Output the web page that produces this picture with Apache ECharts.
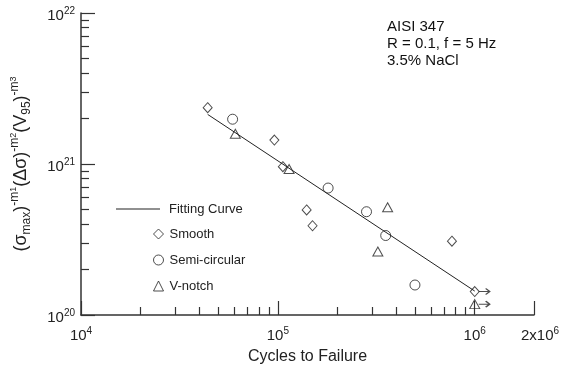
<!DOCTYPE html>
<html>
<head>
<meta charset="utf-8">
<title>AISI 347 fatigue life</title>
<script src="https://cdn.jsdelivr.net/npm/echarts@6/dist/echarts.min.js"></script>
<style>
  html, body { margin: 0; padding: 0; background: #fff; }
  #chart { width: 566px; height: 378px; }
</style>
</head>
<body>
<div id="chart"></div>
<script>
// Cycles to failure and combined stress parameter for each notch type
const smoothCycles = [4.4e4, 9.6e4, 1.06e5, 1.40e5, 1.50e5, 7.66e5, 1.0e6];
const smoothParam  = [2.36e21, 1.44e21, 9.6e20, 4.96e20, 3.90e20, 3.08e20, 1.43e20];
const smoothRunout = [0, 0, 0, 0, 0, 0, 1];

const semiCycles = [5.89e4, 1.80e5, 2.82e5, 3.53e5, 4.97e5];
const semiParam  = [1.98e21, 6.93e20, 4.83e20, 3.36e20, 1.58e20];
const semiRunout = [0, 0, 0, 0, 0];

const vCycles = [6.08e4, 1.14e5, 3.61e5, 3.22e5, 1.0e6];
const vParam  = [1.585e21, 9.27e20, 5.17e20, 2.63e20, 1.18e20];
const vRunout = [0, 0, 0, 0, 1];

// Fitted power-law line end points
const fitCycles = [4.4e4, 1.0e6];
const fitParam  = [2.13e21, 1.44e20];

// Axis ranges
const xRange = [1e4, 2e6];
const yRange = [1e20, 1e22];

const annotation = ['AISI 347', 'R = 0.1, f = 5 Hz', '3.5% NaCl'];
const seriesNames = ['Smooth', 'Semi-circular', 'V-notch'];
const fitName = 'Fitting Curve';
const xTitle = 'Cycles to Failure';

const FONT = '"Liberation Sans", Arial, Helvetica, sans-serif';
const INK = '#222';

const zip = (xs, ys) => xs.map((x, i) => [x, ys[i]]);

// minor ticks at 2..9 within each full decade of a range
function minorTicks(lo, hi) {
  const out = [];
  for (let d = lo; d < hi; d *= 10) {
    for (let k = 2; k <= 9; k++) {
      const v = k * d;
      if (v < hi) out.push(v);
    }
  }
  return out;
}

function powerLabel(v) {
  const e = Math.floor(Math.log10(v) + 1e-9);
  const m = Math.round(v / Math.pow(10, e));
  if (m === 1) return '{b|10}{s|' + e + '}';
  return '{c|' + m + 'x10}{s|' + e + '}';
}

const tickRich = {
  b: { fontSize: 15, lineHeight: 20, color: INK, fontFamily: FONT },
  c: { fontSize: 15, lineHeight: 20, color: INK, fontFamily: FONT, padding: [0, 0, 0, 12] },
  s: { fontSize: 10, lineHeight: 6.6, verticalAlign: 'top', color: INK, fontFamily: FONT }
};

// run-out arrows for specimens that did not fail
const runoutPts = []
  .concat(zip(smoothCycles, smoothParam).filter((p, i) => smoothRunout[i]))
  .concat(zip(semiCycles, semiParam).filter((p, i) => semiRunout[i]))
  .concat(zip(vCycles, vParam).filter((p, i) => vRunout[i]));

const markerStyle = { color: 'transparent', borderColor: INK, borderWidth: 1 };

const chart = echarts.init(document.getElementById('chart'), null, { renderer: 'canvas' });

chart.setOption({
  animation: false,
  backgroundColor: '#fff',
  textStyle: { fontFamily: FONT },
  grid: { left: 81, top: 13, width: 453, height: 302 },
  title: {
    text: annotation.join('\n'),
    left: 382, top: 14,
    textStyle: { fontSize: 15, fontWeight: 'normal', color: '#111', lineHeight: 16.7, fontFamily: FONT }
  },
  legend: [
    {
      data: [{ name: fitName, icon: 'path://M0,0 H44 V1 H0 Z' }],
      left: 111, top: 197,
      itemWidth: 44, itemHeight: 14,
      selectedMode: false,
      textStyle: { fontSize: 13, color: INK, lineHeight: 14, padding: [0, 0, 0, 4], fontFamily: FONT }
    },
    {
      data: seriesNames,
      orient: 'vertical',
      left: 148, top: 222,
      itemWidth: 10, itemHeight: 10, itemGap: 12,
      selectedMode: false,
      itemStyle: { borderWidth: 1 },
      textStyle: { fontSize: 13, color: INK, lineHeight: 14, padding: [0, 0, 0, 1], fontFamily: FONT }
    }
  ],
  xAxis: [
    {
      type: 'log', logBase: 10, min: xRange[0], max: xRange[1],
      name: xTitle, nameLocation: 'middle', nameGap: 32,
      nameTextStyle: { fontSize: 16, color: INK, fontFamily: FONT },
      axisLine: { show: true, lineStyle: { color: '#333', width: 1.5 } },
      axisTick: { show: true, inside: true, length: 14, lineStyle: { color: '#333', width: 1.2 } },
      axisLabel: { margin: 11, formatter: powerLabel, rich: tickRich },
      splitLine: { show: false }
    },
    {
      type: 'log', logBase: 10, min: xRange[0], max: xRange[1], position: 'bottom', gridIndex: 0,
      axisLine: { show: false },
      axisTick: { show: true, inside: true, length: 8, customValues: minorTicks(xRange[0], xRange[1]),
                  lineStyle: { color: '#333', width: 1.2 } },
      axisLabel: { show: false },
      splitLine: { show: false }
    }
  ],
  yAxis: [
    {
      type: 'log', logBase: 10, min: yRange[0], max: yRange[1],
      name: '{p|(σ}{sub|max}{p|)}{sup|-m}{ss|1}{p|(Δσ)}{sup|-m}{ss|2}{p|(V}{sub|95}{p|)}{sup|-m}{ss|3}',
      nameLocation: 'middle', nameRotate: 90, nameGap: 48,
      nameTextStyle: {
        color: INK, fontFamily: FONT,
        rich: {
          p: { fontSize: 18, lineHeight: 24, color: INK, fontFamily: FONT },
          sup: { fontSize: 12, lineHeight: 9.4, verticalAlign: 'top', color: INK, fontFamily: FONT },
          ss: { fontSize: 9, lineHeight: 16, verticalAlign: 'top', color: INK, fontFamily: FONT },
          sub: { fontSize: 12, lineHeight: 14.4, verticalAlign: 'bottom', color: INK, fontFamily: FONT }
        }
      },
      axisLine: { show: true, lineStyle: { color: '#333', width: 1.5 } },
      axisTick: { show: true, inside: true, length: 14, lineStyle: { color: '#333', width: 1.2 } },
      axisLabel: { margin: 6, padding: [6, 0, 0, 0], formatter: powerLabel, rich: tickRich },
      splitLine: { show: false }
    },
    {
      type: 'log', logBase: 10, min: yRange[0], max: yRange[1], position: 'left', gridIndex: 0,
      axisLine: { show: false },
      axisTick: { show: true, inside: true, length: 8, customValues: minorTicks(yRange[0], yRange[1]),
                  lineStyle: { color: '#333', width: 1.2 } },
      axisLabel: { show: false },
      splitLine: { show: false }
    }
  ],
  series: [
    {
      name: fitName, type: 'line', data: zip(fitCycles, fitParam),
      symbol: 'none', silent: true,
      lineStyle: { color: INK, width: 1 }, itemStyle: { color: INK }
    },
    {
      name: seriesNames[0], type: 'scatter', data: zip(smoothCycles, smoothParam),
      symbol: 'diamond', symbolSize: [9, 10], itemStyle: markerStyle, silent: true
    },
    {
      name: seriesNames[1], type: 'scatter', data: zip(semiCycles, semiParam),
      symbol: 'circle', symbolSize: 10, itemStyle: markerStyle, silent: true
    },
    {
      name: seriesNames[2], type: 'scatter', data: zip(vCycles, vParam),
      symbol: 'triangle', symbolSize: [10, 9], itemStyle: markerStyle, silent: true
    },
    {
      name: 'Run-out', type: 'scatter', data: runoutPts,
      symbol: 'path://M0,4 L11,4 M7,1 L11,4 L7,7',
      symbolSize: [11, 6], symbolOffset: [9.5, 0],
      itemStyle: { color: 'transparent', borderColor: INK, borderWidth: 1.3 },
      silent: true
    }
  ]
});
</script>
</body>
</html>
